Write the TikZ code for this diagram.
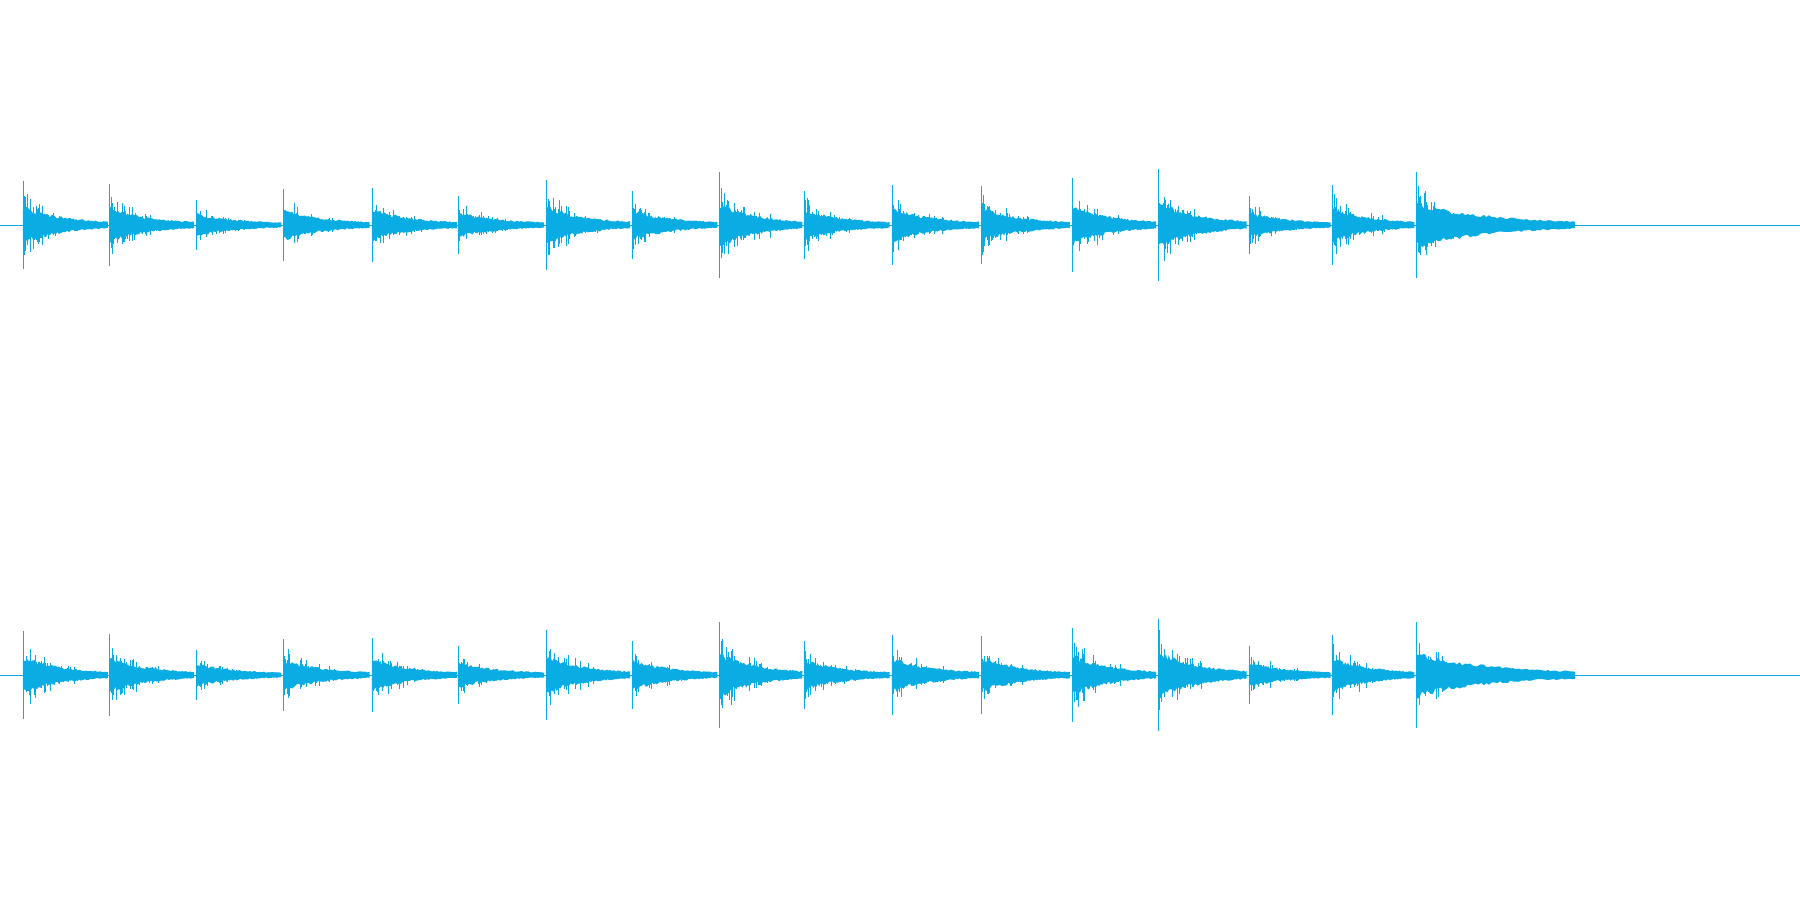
\documentclass[tikz,border=0pt]{standalone}
\usepackage{tikz}
\definecolor{wavecol}{RGB}{10,172,228}
\begin{document}
\begin{tikzpicture}[x=1pt,y=-1pt,line join=bevel]
  \tikzset{wave/.style={fill=wavecol,draw=none},
           spike/.style={draw=wavecol,line width=0.7pt},
           axisline/.style={draw=wavecol,line width=0.7pt}}
  \pgfmathsetseed{7}
  \useasboundingbox (0,0) rectangle (1568,784);
  % Channel axes
  \foreach \c in {196,588} {
    \draw[axisline] (0,\c) -- (1568,\c);
  }
  % Bursts
  \foreach \x/\a/\len in {20/38/74,95/36/74,171/22/74,247/31/75,324/32/74,399/25/75,
      476/39/73,551/30/74,627/46/72,701/30/74,777/35/76,855/34/77,934/41/73,
      1009/49/77,1088/25/71,1161/35/71,1234/46/138} {
    \foreach \c in {196,588} {
      \fill[wave] (\x,\c)
        -- plot[variable=\t,domain=0:\len,samples=60]
           ({\x+\t},{\c-(0.42*\a*exp(-\t/(\len/2.2))+1.5)*(0.7+0.3*rnd)})
        -- plot[variable=\t,domain=\len:0,samples=60]
           ({\x+\t},{\c+(0.42*\a*exp(-\t/(\len/2.2))+1.5)*(0.7+0.3*rnd)})
        -- cycle;
      \foreach \k in {1,...,30} {
        \pgfmathsetmacro{\dx}{rnd^1.5*45}
        \pgfmathsetmacro{\h}{\a*(0.3+0.55*rnd)*exp(-\dx/35)}
        \draw[spike] ({\x+\dx},{\c-\h*(0.6+0.4*rnd)}) -- ({\x+\dx},{\c+\h*(0.6+0.4*rnd)});
      }
      \draw[spike] (\x,{\c-\a}) -- (\x,{\c+\a});
    }
  }
\end{tikzpicture}
\end{document}
